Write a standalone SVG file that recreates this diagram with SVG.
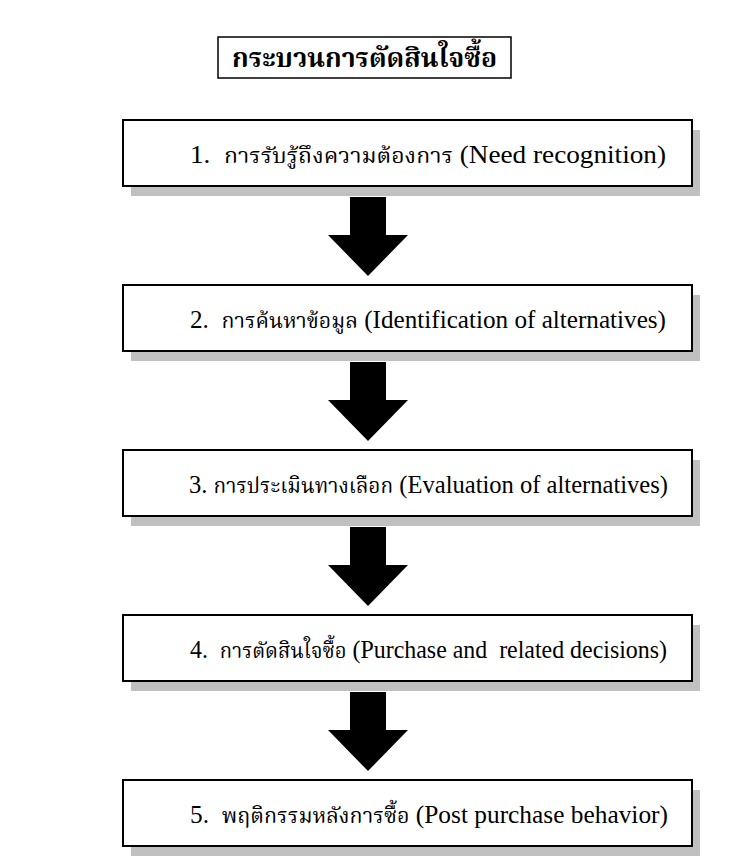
<svg xmlns="http://www.w3.org/2000/svg" width="734" height="862" viewBox="0 0 734 862">
<style>
.box{fill:#fff;stroke:#000;stroke-width:2}
.shadow{fill:#c0c0c0}
.line{font-family:"Liberation Serif","DejaVu Serif","Noto Serif","Times New Roman",serif;font-size:26px;fill:#000;white-space:pre}
.th{font-family:"Noto Serif Thai","Noto Sans Thai","Liberation Serif",serif;font-size:22px}
.title{font-family:"Noto Serif Thai","Noto Sans Thai","Liberation Serif",serif;font-size:27px;font-weight:bold;fill:#000}
.arrow{fill:#000}
</style>
<rect width="734" height="862" fill="#fff"/>
<g id="title">
<rect x="218" y="37" width="293" height="41" fill="#fff" stroke="#000" stroke-width="1.5"/>
<text class="title" x="232" y="67" textLength="265" lengthAdjust="spacingAndGlyphs">กระบวนการตัดสินใจซื้อ</text>
</g>
<g id="connectors">
<polygon class="arrow" points="350,197 386,197 386,235 408,235 368,276 328,235 350,235"/>
<polygon class="arrow" points="350,362 386,362 386,400 408,400 368,441 328,400 350,400"/>
<polygon class="arrow" points="350,527 386,527 386,565 408,565 368,606 328,565 350,565"/>
<polygon class="arrow" points="350,692 386,692 386,730 408,730 368,771 328,730 350,730"/>
</g>
<g id="step1">
<rect class="shadow" x="131" y="130" width="569" height="66"/>
<rect class="box" x="123" y="120" width="569" height="66"/>
<text class="line" x="190" y="163" textLength="476" lengthAdjust="spacingAndGlyphs" xml:space="preserve">1.  <tspan class="th">การรับรู้ถึงความต้องการ</tspan> (Need recognition)</text>
</g>
<g id="step2">
<rect class="shadow" x="131" y="295" width="569" height="66"/>
<rect class="box" x="123" y="285" width="569" height="66"/>
<text class="line" x="190" y="328" textLength="476" lengthAdjust="spacingAndGlyphs" xml:space="preserve">2.  <tspan class="th">การค้นหาข้อมูล</tspan> (Identification of alternatives)</text>
</g>
<g id="step3">
<rect class="shadow" x="131" y="460" width="569" height="66"/>
<rect class="box" x="123" y="450" width="569" height="66"/>
<text class="line" x="189" y="493" textLength="479" lengthAdjust="spacingAndGlyphs" xml:space="preserve">3. <tspan class="th">การประเมินทางเลือก</tspan> (Evaluation of alternatives)</text>
</g>
<g id="step4">
<rect class="shadow" x="131" y="625" width="569" height="66"/>
<rect class="box" x="123" y="615" width="569" height="66"/>
<text class="line" x="190" y="658" textLength="477" lengthAdjust="spacingAndGlyphs" xml:space="preserve">4.  <tspan class="th">การตัดสินใจซื้อ</tspan> (Purchase and  related decisions)</text>
</g>
<g id="step5">
<rect class="shadow" x="131" y="790" width="569" height="66"/>
<rect class="box" x="123" y="780" width="569" height="66"/>
<text class="line" x="190" y="823" textLength="478" lengthAdjust="spacingAndGlyphs" xml:space="preserve">5.  <tspan class="th">พฤติกรรมหลังการซื้อ</tspan> (Post purchase behavior)</text>
</g>
</svg>
